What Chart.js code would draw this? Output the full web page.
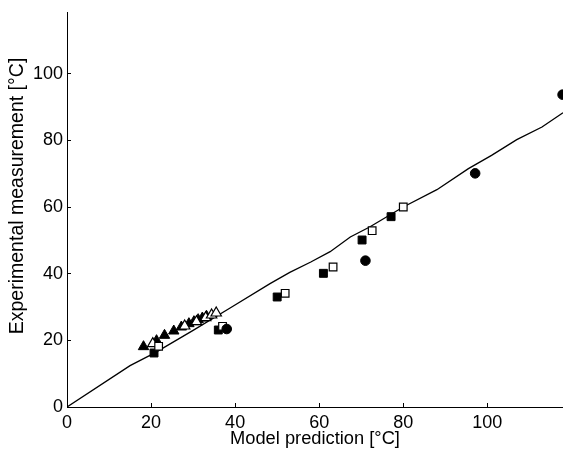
<!DOCTYPE html>
<html>
<head>
<meta charset="utf-8">
<script src="https://cdn.jsdelivr.net/npm/chart.js@4/dist/chart.umd.min.js"></script>
<style>
  html, body { margin: 0; padding: 0; background: #fff; }
  #wrap { width: 563px; height: 457px; position: relative; }
</style>
</head>
<body>
<div id="wrap"><canvas id="myChart" width="563" height="457"></canvas></div>
<script>
// model curve
const lineX = [0, 15, 21, 30, 38.8, 48.3, 53, 58, 62.6, 67.4, 72, 80, 88, 95.5, 101, 107, 113, 118];
const lineY = [0, 12.4, 16.3, 23, 29.7, 37.0, 40.4, 43.5, 46.6, 51, 54, 60, 65.2, 71.5, 75.5, 80.2, 84, 88.3];

// measurements
const triFilledX = [18.2, 21.3, 23.2, 25.4, 27.2, 29.0, 30.2, 31.2, 32.2, 33.2];
const triFilledY = [18.1, 19.9, 21.5, 22.8, 24.0, 25.0, 25.6, 26.2, 26.7, 27.2];
const triHollowX = [20.4, 28.0, 30.8, 33.0, 34.4, 35.5];
const triHollowY = [19.0, 24.3, 25.6, 26.8, 27.6, 28.2];
const sqFilledX = [20.7, 36.0, 50.0, 61.0, 70.2, 77.1];
const sqFilledY = [16.2, 23.1, 33.0, 40.1, 50.1, 57.1];
const sqHollowX = [21.8, 37.0, 51.9, 63.3, 72.6, 80.0];
const sqHollowY = [18.2, 24.2, 34.1, 42.0, 52.9, 60.0];
const circleX = [38.0, 71.0, 97.1, 117.9];
const circleY = [23.4, 43.9, 70.1, 93.7];

const xTicks = [0, 20, 40, 60, 80, 100];
const yTicks = [0, 20, 40, 60, 80, 100];

function pts(xs, ys) {
  return xs.map((x, i) => ({ x, y: ys[i] }));
}

const fontFamily = '"Liberation Sans", Arial, sans-serif';
const ctx = document.querySelector('#myChart');

// eslint-disable-next-line no-unused-vars
const chart = new Chart(ctx, {
  type: 'scatter',
  data: {
    datasets: [
      {
        data: pts(circleX, circleY),
        pointStyle: 'circle',
        pointRadius: 4.8,
        backgroundColor: '#000',
        borderColor: '#000',
        borderWidth: 1,
        clip: false,
      },
      {
        data: pts(sqHollowX, sqHollowY),
        pointStyle: 'rect',
        pointRadius: 5.4,
        backgroundColor: '#fff',
        borderColor: '#000',
        borderWidth: 1.2,
      },
      {
        data: pts(sqFilledX, sqFilledY),
        pointStyle: 'rect',
        pointRadius: 5.6,
        backgroundColor: '#000',
        borderColor: '#000',
        borderWidth: 1,
      },
      {
        data: pts(triHollowX, triHollowY),
        pointStyle: 'triangle',
        pointRadius: 6,
        backgroundColor: '#fff',
        borderColor: '#000',
        borderWidth: 1.2,
      },
      {
        data: pts(triFilledX, triFilledY),
        pointStyle: 'triangle',
        pointRadius: 6,
        backgroundColor: '#000',
        borderColor: '#000',
        borderWidth: 1,
      },
      {
        type: 'line',
        data: pts(lineX, lineY),
        showLine: true,
        pointRadius: 0,
        borderColor: '#000',
        borderWidth: 1.3,
        tension: 0,
        fill: false,
      },
    ],
  },
  options: {
    responsive: false,
    animation: false,
    events: [],
    layout: {
      autoPadding: false,
      padding: { top: 12, right: 0, bottom: 0, left: 0 },
    },
    plugins: {
      legend: { display: false },
      tooltip: { enabled: false },
    },
    scales: {
      x: {
        type: 'linear',
        min: 0,
        max: 118,
        afterBuildTicks: (scale) => { scale.ticks = xTicks.map((v) => ({ value: v })); },
        afterFit: (scale) => {
          scale.height = 50;
          scale.paddingLeft = 0;
          scale.paddingRight = 0;
        },
        border: { display: true, color: '#000', width: 1 },
        grid: {
          drawOnChartArea: false,
          drawTicks: true,
          tickLength: -4,
          tickColor: '#000',
          tickWidth: 1,
        },
        ticks: {
          color: '#000',
          padding: 9,
          maxRotation: 0,
          font: { family: fontFamily, size: 18 },
        },
        title: {
          display: true,
          text: 'Model prediction [°C]',
          color: '#000',
          padding: { top: 0, bottom: 7 },
          font: { family: fontFamily, size: 18.3 },
        },
      },
      y: {
        type: 'linear',
        min: 0,
        max: 118.5,
        afterBuildTicks: (scale) => { scale.ticks = yTicks.map((v) => ({ value: v })); },
        afterFit: (scale) => {
          scale.width = 67;
          scale.paddingTop = 0;
          scale.paddingBottom = 0;
        },
        border: { display: true, color: '#000', width: 1 },
        grid: {
          drawOnChartArea: false,
          drawTicks: true,
          tickLength: -4,
          tickColor: '#000',
          tickWidth: 1,
        },
        ticks: {
          color: '#000',
          padding: 8,
          font: { family: fontFamily, size: 18 },
        },
        title: {
          display: true,
          // leading spaces nudge the centred label up a little
          text: '     Experimental measurement [°C]',
          color: '#000',
          padding: { top: 6, bottom: 0 },
          font: { family: fontFamily, size: 19.5 },
        },
      },
    },
  },
});
</script>
</body>
</html>
